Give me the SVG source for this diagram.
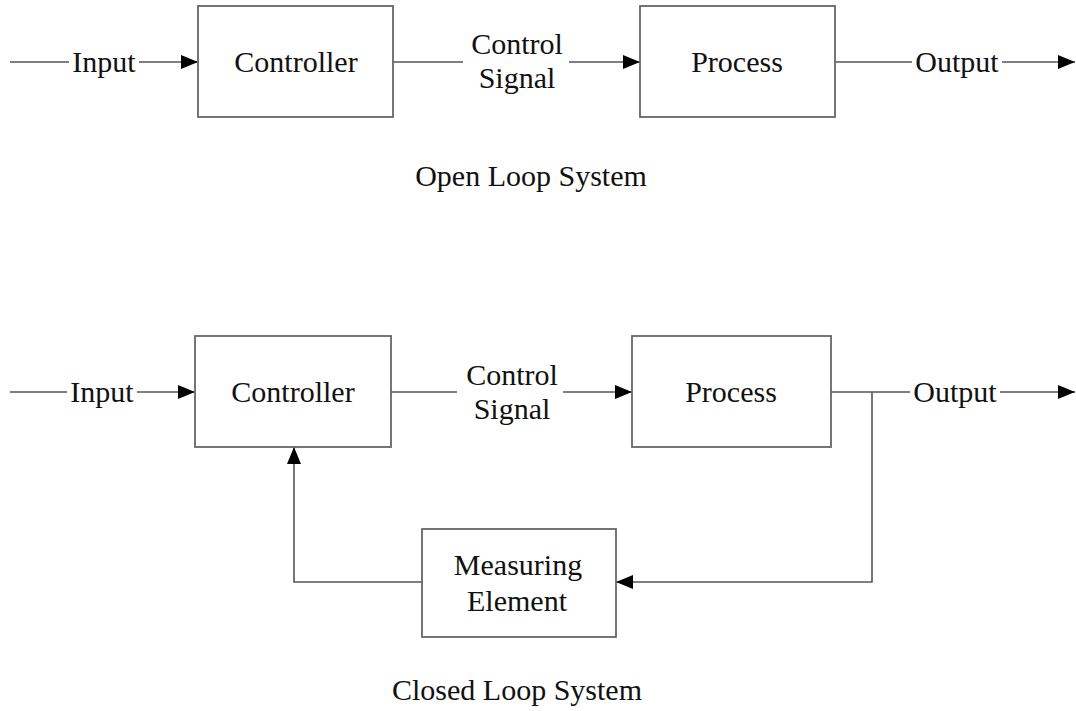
<svg xmlns="http://www.w3.org/2000/svg" width="1076" height="711" viewBox="0 0 1076 711">
  <defs>
    <marker id="arrow" markerUnits="userSpaceOnUse" markerWidth="18" markerHeight="16" refX="17" refY="8" orient="auto">
      <path d="M0,1 L17,8 L0,15 Z" fill="#000"/>
    </marker>
    <style>
      .box { fill: #fff; stroke: #666; stroke-width: 1.8; }
      .wire { fill: none; stroke: #555; stroke-width: 1.6; }
      .arr { marker-end: url(#arrow); }
      text { font-family: "Liberation Serif", "Times New Roman", serif; font-size: 30px; fill: #111; text-anchor: middle; }
    </style>
  </defs>
  <rect width="1076" height="711" fill="#fff"/>

  <!-- Open loop -->
  <g id="connectors-open">
    <line class="wire" x1="10" y1="62" x2="69" y2="62"/>
    <line class="wire arr" x1="139" y1="62" x2="198" y2="62"/>
    <line class="wire" x1="393" y1="62" x2="463" y2="62"/>
    <line class="wire arr" x1="569" y1="62" x2="640" y2="62"/>
    <line class="wire" x1="835" y1="62" x2="912" y2="62"/>
    <line class="wire arr" x1="1002" y1="62" x2="1075" y2="62"/>
  </g>
  <g id="open-input"><text x="104" y="72">Input</text></g>
  <g id="open-controller">
    <rect class="box" x="198" y="6" width="195" height="111"/>
    <text x="296" y="72">Controller</text>
  </g>
  <g id="open-signal">
    <text x="517" y="54">Control</text>
    <text x="517" y="88">Signal</text>
  </g>
  <g id="open-process">
    <rect class="box" x="640" y="6" width="195" height="111"/>
    <text x="737" y="72">Process</text>
  </g>
  <g id="open-output"><text x="957" y="72">Output</text></g>
  <text x="531" y="186">Open Loop System</text>

  <!-- Closed loop -->
  <g id="connectors-closed">
    <line class="wire" x1="10" y1="392" x2="67" y2="392"/>
    <line class="wire arr" x1="137" y1="392" x2="195" y2="392"/>
    <line class="wire" x1="391" y1="392" x2="457" y2="392"/>
    <line class="wire arr" x1="563" y1="392" x2="632" y2="392"/>
    <line class="wire" x1="831" y1="392" x2="910" y2="392"/>
    <line class="wire arr" x1="1000" y1="392" x2="1075" y2="392"/>
    <polyline class="wire arr" points="872,392 872,582 616,582"/>
    <polyline class="wire arr" points="422,582 294,582 294,447"/>
  </g>
  <g id="closed-input"><text x="102" y="402">Input</text></g>
  <g id="closed-controller">
    <rect class="box" x="195" y="336" width="196" height="111"/>
    <text x="293" y="402">Controller</text>
  </g>
  <g id="closed-signal">
    <text x="512" y="385">Control</text>
    <text x="512" y="419">Signal</text>
  </g>
  <g id="closed-process">
    <rect class="box" x="632" y="336" width="199" height="111"/>
    <text x="731" y="402">Process</text>
  </g>
  <g id="closed-output"><text x="955" y="402">Output</text></g>
  <g id="measuring">
    <rect class="box" x="422" y="529" width="194" height="108"/>
    <text x="518" y="575">Measuring</text>
    <text x="517" y="611">Element</text>
  </g>
  <text x="517" y="700">Closed Loop System</text>
</svg>
